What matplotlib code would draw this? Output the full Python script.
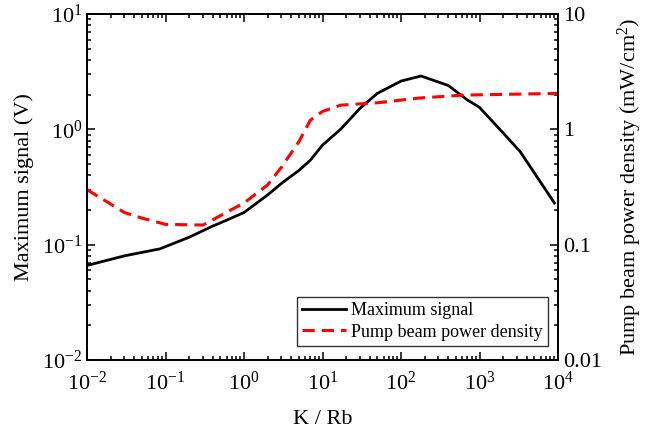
import matplotlib
matplotlib.use("Agg")
import matplotlib.pyplot as plt
from matplotlib.ticker import LogLocator, FuncFormatter, NullFormatter

plt.rcParams["font.family"] = ["Liberation Serif", "DejaVu Serif"]
plt.rcParams["mathtext.fontset"] = "custom"
plt.rcParams["mathtext.rm"] = "Liberation Serif"
plt.rcParams["mathtext.it"] = "Liberation Serif:italic"

# K/Rb ratio and maximum signal (V)
ratio_sig = [0.01, 0.03, 0.085, 0.2, 0.4, 0.6, 1, 2, 3, 5, 7, 10, 17, 30, 50, 100, 180, 400,
             700, 1000, 2000, 3300, 9000]
max_signal = [0.066, 0.08, 0.092, 0.116, 0.145, 0.163, 0.19, 0.27, 0.34, 0.44, 0.54, 0.73, 1.0,
              1.52, 2.05, 2.62, 2.9, 2.4, 1.8, 1.55, 0.93, 0.64, 0.23]

# K/Rb ratio and pump beam power density (mW/cm^2)
ratio_pump = [0.01, 0.03, 0.05, 0.1, 0.3, 0.75, 1, 2, 3, 5, 7, 10, 17, 50, 174, 620, 10000]
pump_density = [0.30, 0.19, 0.17, 0.15, 0.148, 0.207, 0.23, 0.33, 0.47, 0.78, 1.2, 1.43, 1.62,
                1.7, 1.87, 1.98, 2.05]

fig = plt.figure(figsize=(6.52, 4.30), dpi=100)
ax = fig.add_axes([87 / 652, 70 / 430, 471 / 652, 346 / 430])
ax2 = ax.twinx()

l1, = ax.plot(ratio_sig, max_signal, color="black", lw=2, label="Maximum signal")
l2, = ax2.plot(ratio_pump, pump_density, color="red", lw=2.2, ls=(0, (4, 2.3)),
               label="Pump beam power density")

ax.set_xscale("log")
ax.set_yscale("log")
ax2.set_yscale("log")
ax.set_xlim(1e-2, 1e4)
ax.set_ylim(1e-2, 1e1)
ax2.set_ylim(0.01, 10)

for a in (ax, ax2):
    for s in a.spines.values():
        s.set_linewidth(1.3)
    a.tick_params(which="both", direction="in", labelsize=16, width=1.1)
    a.tick_params(which="major", length=6)
    a.tick_params(which="minor", length=3)

ax.tick_params(axis="x", which="both", top=True, pad=8)
ax.tick_params(axis="y", which="both", right=False)
ax.xaxis.set_major_locator(LogLocator(base=10, numticks=10))
ax.xaxis.set_minor_locator(LogLocator(base=10, subs=range(2, 10), numticks=100))
ax.xaxis.set_minor_formatter(NullFormatter())
ax.yaxis.set_minor_locator(LogLocator(base=10, subs=range(2, 10), numticks=100))
ax.yaxis.set_minor_formatter(NullFormatter())
ax2.yaxis.set_minor_locator(LogLocator(base=10, subs=range(2, 10), numticks=100))
ax2.yaxis.set_minor_formatter(NullFormatter())
ax2.yaxis.set_major_formatter(FuncFormatter(lambda v, p: "%g" % v))

ax.set_xlabel("K / Rb", fontsize=16, labelpad=11)
ax.set_ylabel("Maximum signal (V)", fontsize=16, labelpad=6)
ax2.set_ylabel("Pump beam power density (mW/cm$^2$)", fontsize=16, labelpad=10)

leg = ax.legend(handles=[l1, l2], loc="lower right", fontsize=13, frameon=True, fancybox=False,
                handlelength=2.4, borderpad=0.3, labelspacing=0.25, handletextpad=0.3,
                borderaxespad=0, bbox_to_anchor=(0.979, 0.04))
leg.get_frame().set_edgecolor("black")
leg.get_frame().set_linewidth(1.0)

fig.savefig("out.png", dpi=100)
plt.close(fig)
